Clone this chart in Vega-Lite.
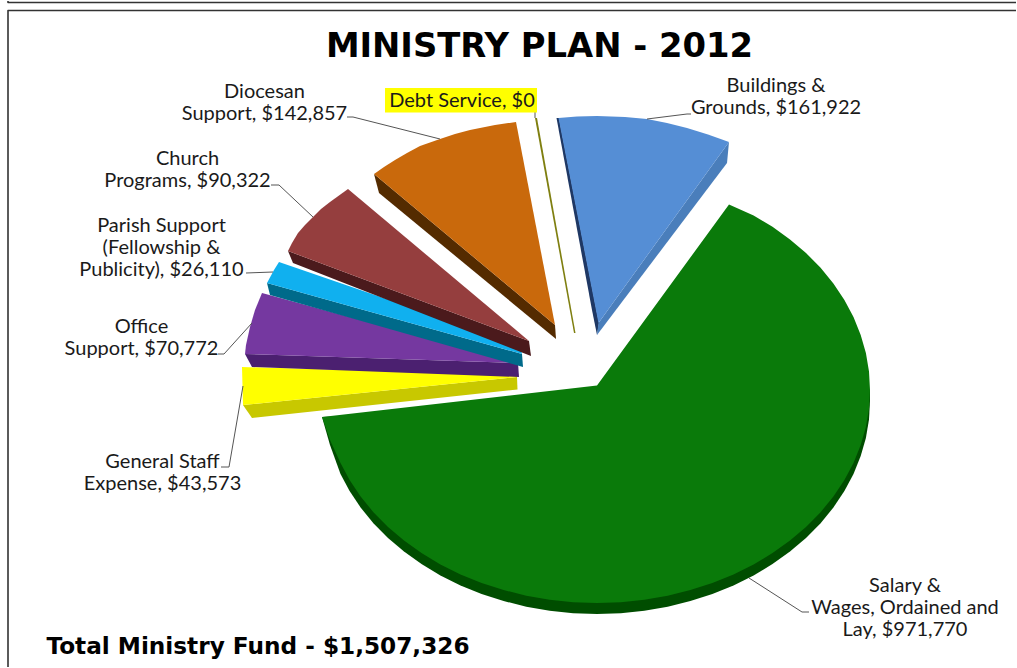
{"$schema":"https://vega.github.io/schema/vega-lite/v6.json","autosize":{"type":"fit","contains":"padding"},"width":1017,"height":668,"padding":0,"background":"white","view":{"stroke":null},
"datasets":{
"frame":[
{"id":"a","s":1,"px":8,"py":0.9},{"id":"a","s":2,"px":8,"py":2.5},{"id":"a","s":3,"px":1016,"py":2.5},
{"id":"b","s":1,"px":8,"py":667},{"id":"b","s":2,"px":8,"py":10.5},{"id":"b","s":3,"px":1016,"py":10.5}],
"highlight":[{"x1":385,"x2":537,"y1":88,"y2":112.5}],
"shapes":[
{"part":"Salary side","s":1,"px":870,"py":390},{"part":"Salary side","s":1.5,"px":870,"py":401},{"part":"Salary side","s":1.7,"px":869,"py":419.6},{"part":"Salary side","s":2,"px":865.9,"py":438},{"part":"Salary side","s":2.5,"px":860.7,"py":456.1},{"part":"Salary side","s":3,"px":853.5,"py":474},{"part":"Salary side","s":3.5,"px":844.4,"py":491},{"part":"Salary side","s":4,"px":833.4,"py":507.5},{"part":"Salary side","s":4.5,"px":820.6,"py":523.2},{"part":"Salary side","s":5,"px":806,"py":538},{"part":"Salary side","s":5.5,"px":790,"py":551.6},{"part":"Salary side","s":6,"px":772.5,"py":564},{"part":"Salary side","s":6.5,"px":753.6,"py":575.5},{"part":"Salary side","s":7,"px":733.5,"py":585.5},{"part":"Salary side","s":7.5,"px":712.4,"py":594},{"part":"Salary side","s":8,"px":690.4,"py":601},{"part":"Salary side","s":8.5,"px":667.7,"py":606.8},{"part":"Salary side","s":9,"px":644.4,"py":610.8},{"part":"Salary side","s":9.5,"px":620.8,"py":613.2},{"part":"Salary side","s":10,"px":597,"py":614},{"part":"Salary side","s":10.5,"px":573.2,"py":613.2},{"part":"Salary side","s":11,"px":549.6,"py":610.8},{"part":"Salary side","s":11.5,"px":526.3,"py":606.8},{"part":"Salary side","s":12,"px":503.6,"py":601},{"part":"Salary side","s":12.5,"px":481.6,"py":594},{"part":"Salary side","s":13,"px":460.5,"py":585.5},{"part":"Salary side","s":13.5,"px":440.4,"py":575.5},{"part":"Salary side","s":14,"px":421.5,"py":564},{"part":"Salary side","s":14.5,"px":404,"py":551.6},{"part":"Salary side","s":15,"px":388,"py":538},{"part":"Salary side","s":15.5,"px":373.4,"py":523.2},{"part":"Salary side","s":16,"px":360.6,"py":507.5},{"part":"Salary side","s":16.5,"px":349.6,"py":491},{"part":"Salary side","s":17,"px":340.5,"py":474},{"part":"Salary side","s":18,"px":330,"py":445},{"part":"Salary side","s":19,"px":322,"py":417},
{"part":"Salary","s":1,"px":597,"py":385.5},{"part":"Salary","s":2,"px":729,"py":204.5},{"part":"Salary","s":2.5,"px":753.6,"py":215.5},{"part":"Salary","s":3,"px":772.5,"py":226.8},{"part":"Salary","s":3.5,"px":790,"py":239.4},{"part":"Salary","s":4,"px":806,"py":253},{"part":"Salary","s":4.5,"px":820.6,"py":267.8},{"part":"Salary","s":5,"px":833.4,"py":283.5},{"part":"Salary","s":5.5,"px":844.4,"py":300},{"part":"Salary","s":6,"px":853.5,"py":317},{"part":"Salary","s":6.5,"px":860.7,"py":334.9},{"part":"Salary","s":7,"px":865.9,"py":353},{"part":"Salary","s":7.5,"px":869,"py":371.4},{"part":"Salary","s":8,"px":870,"py":390},{"part":"Salary","s":8.5,"px":869,"py":408.6},{"part":"Salary","s":9,"px":865.9,"py":427},{"part":"Salary","s":9.5,"px":860.7,"py":445.1},{"part":"Salary","s":10,"px":853.5,"py":463},{"part":"Salary","s":10.5,"px":844.4,"py":480},{"part":"Salary","s":11,"px":833.4,"py":496.5},{"part":"Salary","s":11.5,"px":820.6,"py":512.2},{"part":"Salary","s":12,"px":806,"py":527},{"part":"Salary","s":12.5,"px":790,"py":540.6},{"part":"Salary","s":13,"px":772.5,"py":553},{"part":"Salary","s":13.5,"px":753.6,"py":564.5},{"part":"Salary","s":14,"px":733.5,"py":574.5},{"part":"Salary","s":14.5,"px":712.4,"py":583},{"part":"Salary","s":15,"px":690.4,"py":590},{"part":"Salary","s":15.5,"px":667.7,"py":595.8},{"part":"Salary","s":16,"px":644.4,"py":599.8},{"part":"Salary","s":16.5,"px":620.8,"py":602.2},{"part":"Salary","s":17,"px":597,"py":603},{"part":"Salary","s":17.5,"px":573.2,"py":602.2},{"part":"Salary","s":18,"px":549.6,"py":599.8},{"part":"Salary","s":18.5,"px":526.3,"py":595.8},{"part":"Salary","s":19,"px":503.6,"py":590},{"part":"Salary","s":19.5,"px":481.6,"py":583},{"part":"Salary","s":20,"px":460.5,"py":574.5},{"part":"Salary","s":20.5,"px":440.4,"py":564.5},{"part":"Salary","s":21,"px":421.5,"py":553},{"part":"Salary","s":21.5,"px":404,"py":540.6},{"part":"Salary","s":22,"px":388,"py":527},{"part":"Salary","s":22.5,"px":373.4,"py":512.2},{"part":"Salary","s":23,"px":360.6,"py":496.5},{"part":"Salary","s":23.5,"px":349.6,"py":480},{"part":"Salary","s":24,"px":340.5,"py":463},{"part":"Salary","s":25,"px":330,"py":440},{"part":"Salary","s":26,"px":322,"py":417},
{"part":"General side","s":1,"px":243,"py":405},{"part":"General side","s":2,"px":252,"py":418},{"part":"General side","s":3,"px":517.5,"py":389.5},{"part":"General side","s":4,"px":517,"py":377},
{"part":"General","s":1,"px":242,"py":367},{"part":"General","s":2,"px":243,"py":405},{"part":"General","s":3,"px":517,"py":377},{"part":"General","s":4,"px":517,"py":375},
{"part":"Office side","s":1,"px":245,"py":354},{"part":"Office side","s":2,"px":252,"py":367},{"part":"Office side","s":3,"px":519,"py":377},{"part":"Office side","s":4,"px":518,"py":363},
{"part":"Office","s":1,"px":262,"py":293},{"part":"Office","s":2,"px":255,"py":310},{"part":"Office","s":3,"px":250,"py":327},{"part":"Office","s":4,"px":246,"py":345},{"part":"Office","s":5,"px":245,"py":354},{"part":"Office","s":6,"px":518,"py":363},
{"part":"Parish side","s":1,"px":267,"py":283},{"part":"Parish side","s":2,"px":270,"py":295},{"part":"Parish side","s":3,"px":523,"py":367},{"part":"Parish side","s":4,"px":522,"py":354},
{"part":"Parish","s":1,"px":279,"py":262},{"part":"Parish","s":2,"px":274,"py":270},{"part":"Parish","s":3,"px":267,"py":283},{"part":"Parish","s":4,"px":522,"py":354},{"part":"Parish","s":5,"px":520,"py":345},
{"part":"Church side","s":1,"px":288,"py":251},{"part":"Church side","s":2,"px":293,"py":263},{"part":"Church side","s":3,"px":531,"py":356},{"part":"Church side","s":4,"px":529,"py":341},
{"part":"Church","s":1,"px":288,"py":251},{"part":"Church","s":2,"px":292,"py":243},{"part":"Church","s":3,"px":298,"py":233},{"part":"Church","s":4,"px":305,"py":225},{"part":"Church","s":5,"px":313,"py":217},{"part":"Church","s":6,"px":321,"py":209},{"part":"Church","s":7,"px":330,"py":202},{"part":"Church","s":8,"px":348,"py":189},{"part":"Church","s":9,"px":529,"py":341},
{"part":"Diocesan side","s":1,"px":374,"py":174},{"part":"Diocesan side","s":2,"px":379,"py":193},{"part":"Diocesan side","s":3,"px":556,"py":339},{"part":"Diocesan side","s":4,"px":555,"py":325},
{"part":"Diocesan","s":1,"px":374,"py":174},{"part":"Diocesan","s":2,"px":384,"py":167},{"part":"Diocesan","s":3,"px":395,"py":160},{"part":"Diocesan","s":4,"px":407,"py":153},{"part":"Diocesan","s":5,"px":420,"py":146},{"part":"Diocesan","s":6,"px":440,"py":139},{"part":"Diocesan","s":7,"px":455,"py":134},{"part":"Diocesan","s":8,"px":470,"py":130},{"part":"Diocesan","s":9,"px":495,"py":125},{"part":"Diocesan","s":10,"px":516,"py":122},{"part":"Diocesan","s":11,"px":555,"py":325},
{"part":"Debt","s":1,"px":535,"py":118},{"part":"Debt","s":2,"px":537,"py":118},{"part":"Debt","s":3,"px":575.5,"py":333},{"part":"Debt","s":4,"px":574,"py":333},
{"part":"Buildings back","s":1,"px":556.5,"py":118},{"part":"Buildings back","s":2,"px":559,"py":118},{"part":"Buildings back","s":3,"px":599,"py":323},{"part":"Buildings back","s":4,"px":597,"py":335},{"part":"Buildings back","s":5,"px":592,"py":310},
{"part":"Buildings side","s":1,"px":729,"py":142},{"part":"Buildings side","s":2,"px":727,"py":163},{"part":"Buildings side","s":3,"px":597,"py":335},{"part":"Buildings side","s":4,"px":598.5,"py":323},
{"part":"Buildings","s":1,"px":558.5,"py":118},{"part":"Buildings","s":2,"px":577,"py":116.5},{"part":"Buildings","s":3,"px":597,"py":116},{"part":"Buildings","s":4,"px":625,"py":117},{"part":"Buildings","s":5,"px":647,"py":119},{"part":"Buildings","s":6,"px":667,"py":123},{"part":"Buildings","s":7,"px":687,"py":128},{"part":"Buildings","s":8,"px":708,"py":134.5},{"part":"Buildings","s":9,"px":729,"py":142},{"part":"Buildings","s":10,"px":598.5,"py":323}
],
"leaders":[
{"id":"Diocesan","s":1,"px":347,"py":117},{"id":"Diocesan","s":2,"px":353,"py":117},{"id":"Diocesan","s":3,"px":440,"py":139},
{"id":"Church","s":1,"px":271,"py":185},{"id":"Church","s":2,"px":279,"py":185},{"id":"Church","s":3,"px":313,"py":217},
{"id":"Parish","s":1,"px":246,"py":273},{"id":"Parish","s":2,"px":273,"py":272},
{"id":"Office","s":1,"px":218,"py":354},{"id":"Office","s":2,"px":224,"py":354},{"id":"Office","s":3,"px":252,"py":323},
{"id":"General","s":1,"px":221,"py":467},{"id":"General","s":2,"px":229,"py":467},{"id":"General","s":3,"px":243,"py":386},
{"id":"Salary","s":1,"px":749,"py":578},{"id":"Salary","s":2,"px":802,"py":612},{"id":"Salary","s":3,"px":809,"py":612},
{"id":"Buildings","s":1,"px":647,"py":119},{"id":"Buildings","s":2,"px":687,"py":114},{"id":"Buildings","s":3,"px":691,"py":114},
{"id":"Debt","s":1,"px":535,"py":112},{"id":"Debt","s":2,"px":535,"py":118}
],
"labels":[
{"label":"Diocesan\nSupport, $142,857","px":264.5,"py":92},
{"label":"Debt Service, $0","px":462,"py":101},
{"label":"Buildings &\nGrounds, $161,922","px":776,"py":86},
{"label":"Church\nPrograms, $90,322","px":187.5,"py":159},
{"label":"Parish Support\n(Fellowship &\nPublicity), $26,110","px":161.5,"py":226},
{"label":"Office\nSupport, $70,772","px":141.5,"py":327},
{"label":"General Staff\nExpense, $43,573","px":162.5,"py":462},
{"label":"Salary &\nWages, Ordained and\nLay, $971,770","px":905,"py":586}
],
"titles":[{"label":"MINISTRY PLAN - 2012","px":539.5,"py":47}],
"totals":[{"label":"Total Ministry Fund - $1,507,326","px":258,"py":647}]
},
"encoding":{
"x":{"field":"px","type":"quantitative","axis":null,"scale":{"domain":[0,1017],"nice":false,"zero":false}},
"y":{"field":"py","type":"quantitative","axis":null,"scale":{"domain":[668,0],"nice":false,"zero":false}}
},
"layer":[
{"data":{"name":"frame"},"mark":{"type":"line","stroke":"#333333","strokeWidth":1.6,"strokeJoin":"round"},"encoding":{"detail":{"field":"id"},"order":{"field":"s","type":"quantitative"}}},
{"data":{"name":"shapes"},"mark":{"type":"line","filled":true,"interpolate":"linear","strokeWidth":0},"encoding":{"color":{"field":"part","type":"nominal","legend":null,"scale":{"domain":["Salary side","Salary","General side","General","Office side","Office","Parish side","Parish","Church side","Church","Diocesan side","Diocesan","Debt","Buildings back","Buildings side","Buildings"],"range":["#004d00","#0a7a0a","#c8c800","#ffff00","#4b2070","#7538a0","#006a8a","#10b0ef","#4b1a1c","#953e3e","#542b00","#c9690c","#7f7f10","#1f3864","#4a7ebb","#558ed5"]}},"order":{"field":"s","type":"quantitative"}}},
{"data":{"name":"leaders"},"mark":{"type":"line","stroke":"#555555","strokeWidth":1,"strokeJoin":"round"},"encoding":{"detail":{"field":"id"},"order":{"field":"s","type":"quantitative"}}},
{"data":{"name":"highlight"},"mark":{"type":"rect","fill":"#ffff00"},"encoding":{"x":{"field":"x1","type":"quantitative"},"x2":{"field":"x2"},"y":{"field":"y1","type":"quantitative"},"y2":{"field":"y2"}}},
{"data":{"name":"labels"},"mark":{"type":"text","font":"Lato","fontSize":20,"lineHeight":22,"lineBreak":"\n","align":"center","baseline":"middle","color":"#1a1a1a"},"encoding":{"text":{"field":"label"}}},
{"data":{"name":"titles"},"mark":{"type":"text","font":"DejaVu Sans","fontWeight":"bold","fontSize":33.8,"align":"center","baseline":"middle","color":"#000000"},"encoding":{"text":{"field":"label"}}},
{"data":{"name":"totals"},"mark":{"type":"text","font":"DejaVu Sans","fontWeight":"bold","fontSize":23.2,"align":"center","baseline":"middle","color":"#000000"},"encoding":{"text":{"field":"label"}}}
]
}
